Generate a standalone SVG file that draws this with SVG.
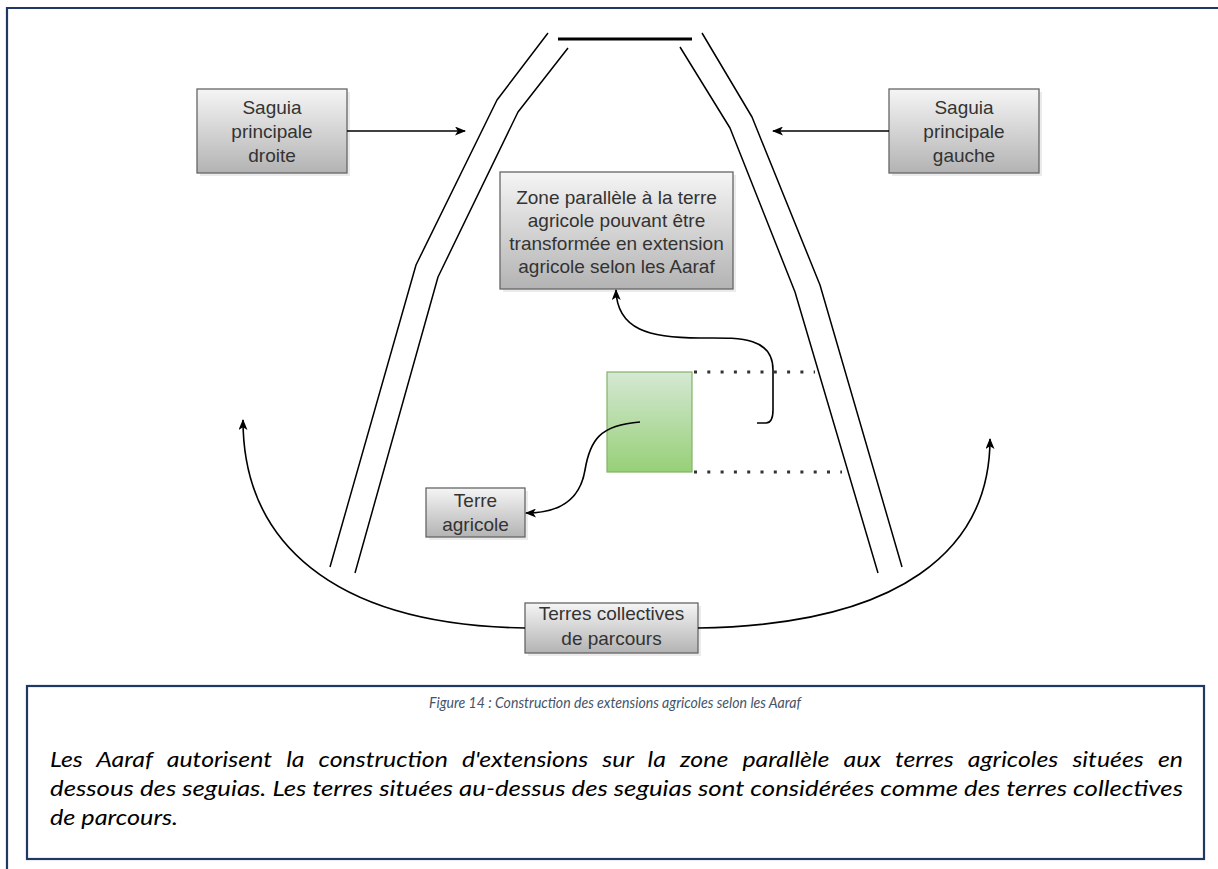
<svg xmlns="http://www.w3.org/2000/svg" width="1218" height="869" viewBox="0 0 1218 869">
  <defs>
    <linearGradient id="grayFill" x1="0" y1="0" x2="0" y2="1">
      <stop offset="0" stop-color="#f5f5f5"/>
      <stop offset="1" stop-color="#b3b3b3"/>
    </linearGradient>
    <linearGradient id="greenFill" x1="0" y1="0" x2="0" y2="1">
      <stop offset="0" stop-color="#d5e8d4"/>
      <stop offset="1" stop-color="#97d077"/>
    </linearGradient>
    <marker id="arrow" viewBox="0 0 11 9" refX="10" refY="4.5" markerWidth="11" markerHeight="9" markerUnits="userSpaceOnUse" orient="auto">
      <path d="M0,0 L11,4.5 L0,9 L2.8,4.5 z" fill="#000"/>
    </marker>
    <style>
      .frame { fill: none; stroke: #1f3864; stroke-width: 2.2; }
      .box { fill: url(#grayFill); stroke: #666666; stroke-width: 1.3; }
      .shadow { fill: #000; opacity: 0.08; }
      .green { fill: url(#greenFill); stroke: #82b366; stroke-width: 1.2; }
      .label { font-family: "Liberation Sans", Arial, sans-serif; font-size: 19px; fill: #333333; text-anchor: middle; }
      .canal { fill: none; stroke: #000; stroke-width: 1.5; stroke-linejoin: round; }
      .conn { fill: none; stroke: #000; stroke-width: 1.6; }
      .dots { fill: none; stroke: #333; stroke-width: 3; stroke-dasharray: 3 10.3; }
      .caption { font-family: Lato, "Liberation Sans", sans-serif; font-style: italic; font-size: 14.5px; fill: #44546a; text-anchor: middle; }
      .body { font-family: Lato, "Liberation Sans", sans-serif; font-style: italic; font-size: 21px; fill: #000; }
    </style>
  </defs>

  <rect width="1218" height="869" fill="#ffffff"/>

  <!-- page frame -->
  <path class="frame" d="M7,869 V8 H1218"/>

  <!-- seguia channels -->
  <g id="seguias">
    <line x1="558" y1="39" x2="692" y2="39" stroke="#000" stroke-width="3"/>
    <polyline class="canal" points="548,33 497,100 416,265 330,567"/>
    <polyline class="canal" points="568,48 518,112 438,277 355,573"/>
    <polyline class="canal" points="702,33 752,117 820,285 902,567"/>
    <polyline class="canal" points="680,47 730,128 795,292 878,573"/>
  </g>

  <!-- nodes -->
  <g id="saguia-droite">
    <rect class="shadow" x="200" y="92" width="150" height="84"/>
    <rect class="box" x="197" y="89" width="150" height="84"/>
    <text class="label" x="272" y="114">Saguia</text>
    <text class="label" x="272" y="138">principale</text>
    <text class="label" x="272" y="162">droite</text>
  </g>

  <g id="saguia-gauche">
    <rect class="shadow" x="892" y="92" width="150" height="84"/>
    <rect class="box" x="889" y="89" width="150" height="84"/>
    <text class="label" x="964" y="114">Saguia</text>
    <text class="label" x="964" y="138">principale</text>
    <text class="label" x="964" y="162">gauche</text>
  </g>

  <g id="zone-parallele">
    <rect class="shadow" x="503" y="175" width="233" height="117"/>
    <rect class="box" x="500" y="172" width="233" height="117"/>
    <text class="label" x="616.5" y="204" font-size="19.5">Zone parallèle à la terre</text>
    <text class="label" x="616.5" y="227" font-size="19.5">agricole pouvant être</text>
    <text class="label" x="616.5" y="250" font-size="19.5">transformée en extension</text>
    <text class="label" x="616.5" y="273" font-size="19.5">agricole selon les Aaraf</text>
  </g>

  <g id="parcelle">
    <rect class="green" x="607" y="372" width="85" height="100"/>
  </g>

  <g id="terre-agricole">
    <rect class="shadow" x="429" y="491" width="99" height="49"/>
    <rect class="box" x="426" y="488" width="99" height="49"/>
    <text class="label" x="475.5" y="507">Terre</text>
    <text class="label" x="475.5" y="531">agricole</text>
  </g>

  <g id="terres-collectives">
    <rect class="shadow" x="528" y="606" width="173" height="50"/>
    <rect class="box" x="525" y="603" width="173" height="50"/>
    <text class="label" x="611.5" y="620">Terres collectives</text>
    <text class="label" x="611.5" y="645">de parcours</text>
  </g>

  <!-- connectors -->
  <g id="connectors">
    <line class="conn" x1="347" y1="131" x2="465" y2="131" marker-end="url(#arrow)"/>
    <line class="conn" x1="889" y1="131" x2="773" y2="131" marker-end="url(#arrow)"/>
    <path class="conn" d="M757,423 L766,423 Q773,423 773,410 L773,370 C773,335 735,338 700,338 C650,338 617,330 616,290" marker-end="url(#arrow)"/>
    <path class="conn" d="M640,422 C600,425 590,440 585,470 C580,500 560,513 526,513" marker-end="url(#arrow)"/>
    <path class="conn" d="M525,628 C330,625 243,540 243,420" marker-end="url(#arrow)"/>
    <path class="conn" d="M698,628 C900,625 990,550 990,439" marker-end="url(#arrow)"/>
    <line class="dots" x1="694" y1="372" x2="815" y2="372"/>
    <line class="dots" x1="694" y1="472" x2="842" y2="472"/>
  </g>

  <!-- caption -->
  <g id="caption">
    <rect x="27" y="686" width="1177" height="173" fill="#ffffff" stroke="#1f3864" stroke-width="2.2"/>
    <text class="caption" x="615" y="708" textLength="372" lengthAdjust="spacingAndGlyphs">Figure 14 : Construction des extensions agricoles selon les Aaraf</text>
    <text class="body" x="50" y="767" word-spacing="7" textLength="1133" lengthAdjust="spacingAndGlyphs">Les Aaraf autorisent la construction d'extensions sur la zone parallèle aux terres agricoles situées en</text>
    <text class="body" x="50" y="796" textLength="1133" lengthAdjust="spacingAndGlyphs">dessous des seguias. Les terres situées au-dessus des seguias sont considérées comme des terres collectives</text>
    <text class="body" x="50" y="825" textLength="128" lengthAdjust="spacingAndGlyphs">de parcours.</text>
  </g>
</svg>
